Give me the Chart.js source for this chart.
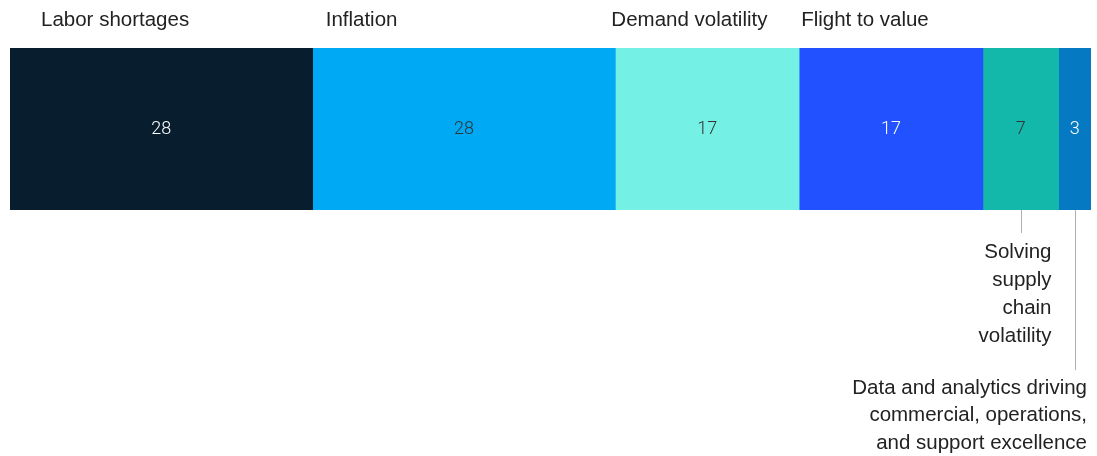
<!DOCTYPE html>
<html>
<head>
<meta charset="utf-8">
<script src="https://cdn.jsdelivr.net/npm/chart.js@4"></script>
<style>
html,body{margin:0;padding:0;background:#fff;}
#wrap{width:1097px;height:456px;position:relative;}
</style>
</head>
<body>
<div id="wrap"><canvas id="c" width="1097" height="456"></canvas></div>
<script>
const categories = ["Labor shortages", "Inflation", "Demand volatility", "Flight to value", "Solving supply chain volatility", "Data and analytics driving commercial, operations, and support excellence"];
const values = [28, 28, 17, 17, 7, 3];
const colors = ["#081D2D", "#00A9F4", "#74F0E5", "#2251FF", "#14B8AB", "#0679C3"];
const valueTextColors = ["#ffffff", "#333333", "#333333", "#ffffff", "#333333", "#ffffff"];

const FONT = '"Liberation Sans", Arial, sans-serif';

const labelsPlugin = {
  id: 'labelsPlugin',
  afterDraw(chart) {
    const ctx = chart.ctx;
    const xs = chart.scales.x;
    const area = chart.chartArea;
    let cum = 0;
    const starts = [], ends = [];
    values.forEach(v => { starts.push(xs.getPixelForValue(cum)); cum += v; ends.push(xs.getPixelForValue(cum)); });
    ctx.save();
    // value labels
    ctx.font = '300 18px Roboto, ' + FONT;
    ctx.textAlign = 'center';
    ctx.textBaseline = 'middle';
    values.forEach((v, i) => {
      ctx.fillStyle = valueTextColors[i];
      ctx.fillText(String(v), (starts[i] + ends[i]) / 2, (area.top + area.bottom) / 2);
    });
    // top labels
    ctx.font = '20.5px ' + FONT;
    ctx.fillStyle = '#222222';
    ctx.textAlign = 'left';
    ctx.textBaseline = 'alphabetic';
    const topOffsets = [31, 13, -4, 2];
    for (let i = 0; i < 4; i++) {
      ctx.fillText(categories[i], starts[i] + topOffsets[i], area.top - 22);
    }
    // leader lines
    ctx.strokeStyle = '#b0b0b0';
    ctx.lineWidth = 1;
    const c4 = Math.round((starts[4] + ends[4]) / 2) + 0.5;
    const c5 = Math.round((starts[5] + ends[5]) / 2) + 0.5;
    ctx.beginPath(); ctx.moveTo(c4, area.bottom); ctx.lineTo(c4, area.bottom + 23); ctx.stroke();
    ctx.beginPath(); ctx.moveTo(c5, area.bottom); ctx.lineTo(c5, area.bottom + 160); ctx.stroke();
    // bottom labels
    ctx.textAlign = 'right';
    ctx.textBaseline = 'middle';
    const l4 = ["Solving", "supply", "chain", "volatility"];
    l4.forEach((t, k) => ctx.fillText(t, c4 + 30, area.bottom + 42 + k * 28));
    const l5 = ["Data and analytics driving", "commercial, operations,", "and support excellence"];
    l5.forEach((t, k) => ctx.fillText(t, ends[5] - 4, area.bottom + 178 + k * 27.5));
    ctx.restore();
  }
};

new Chart(document.getElementById('c'), {
  type: 'bar',
  data: {
    labels: [''],
    datasets: values.map((v, i) => ({
      label: categories[i],
      data: [v],
      backgroundColor: colors[i],
      borderWidth: 0,
      barPercentage: 1,
      categoryPercentage: 1
    }))
  },
  options: {
    indexAxis: 'y',
    responsive: false,
    animation: false,
    layout: { padding: { left: 10, right: 6, top: 48, bottom: 246 } },
    plugins: { legend: { display: false }, tooltip: { enabled: false } },
    scales: {
      x: { stacked: true, min: 0, max: 100, display: false },
      y: { stacked: true, display: false }
    }
  },
  plugins: [labelsPlugin]
});
</script>
</body>
</html>
